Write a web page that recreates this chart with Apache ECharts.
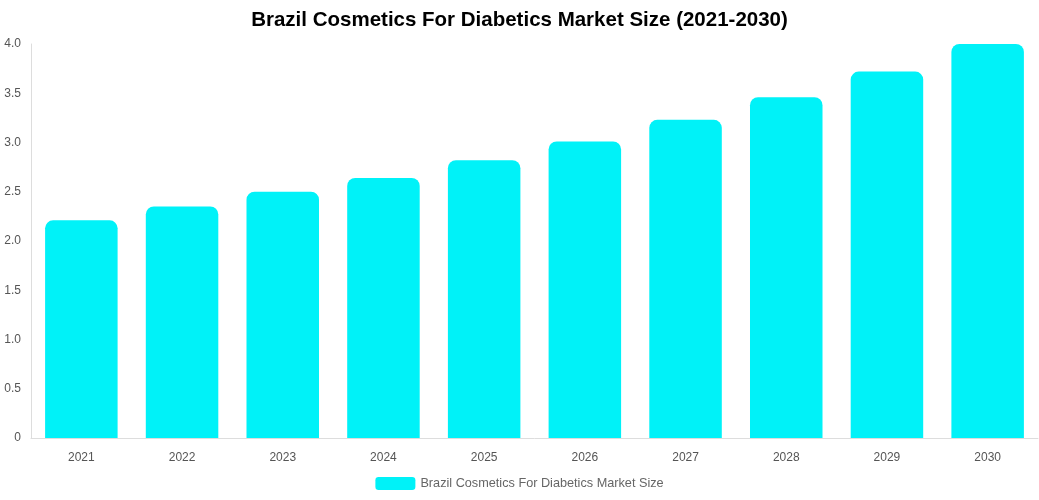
<!DOCTYPE html>
<html lang="en">
<head>
	<meta charset="UTF-8">
	<title>Brazil Cosmetics For Diabetics Market Size</title>
	<script type="text/javascript" src="https://cdn.jsdelivr.net/npm/echarts@6/dist/echarts.min.js"></script>
	<style type="text/css">
		body{ margin:0; background:#fff; }
	</style>
</head>
<body>
	<div id="main" style="width:1039px;height:500px;"></div>
	<script>
		var years = ['2021','2022','2023','2024','2025','2026','2027','2028','2029','2030'];
		var marketSize = [2.21, 2.35, 2.50, 2.64, 2.82, 3.01, 3.23, 3.46, 3.72, 4.00];
		var seriesName = 'Brazil Cosmetics For Diabetics Market Size';

		var chart = echarts.init(document.getElementById('main'));
		var option = {
			title: {
				text: 'Brazil Cosmetics For Diabetics Market Size (2021-2030)',
				left: 'center',
				top: 5,
				textStyle: { fontFamily: 'Arial', fontSize: 20.5, fontWeight: 'bold', color: '#000' }
			},
			legend: {
				data: [seriesName],
				bottom: 5,
				itemWidth: 40,
				itemHeight: 13,
				textStyle: { fontFamily: 'Arial', fontSize: 12.7, color: '#666' }
			},
			grid: { left: 31, right: 1, top: 44, bottom: 62, containLabel: false },
			xAxis: {
				type: 'category',
				data: years,
				axisLine: { lineStyle: { color: '#ddd' } },
				axisTick: { show: false },
				axisLabel: { fontFamily: 'Arial', fontSize: 12, color: '#555', margin: 14 }
			},
			yAxis: {
				type: 'value',
				min: 0,
				max: 4,
				interval: 0.5,
				axisLine: { show: true, lineStyle: { color: '#ddd' } },
				splitLine: { show: false },
				axisLabel: {
					fontFamily: 'Arial', fontSize: 12, color: '#555', margin: 10,
					formatter: function (v) { return v === 0 ? '0' : v.toFixed(1); }
				}
			},
			series: [{
				name: seriesName,
				type: 'bar',
				data: marketSize,
				barWidth: '72%',
				itemStyle: { color: '#00F2F8', borderRadius: [8, 8, 0, 0] }
			}]
		};
		chart.setOption(option);
	</script>
</body>
</html>
